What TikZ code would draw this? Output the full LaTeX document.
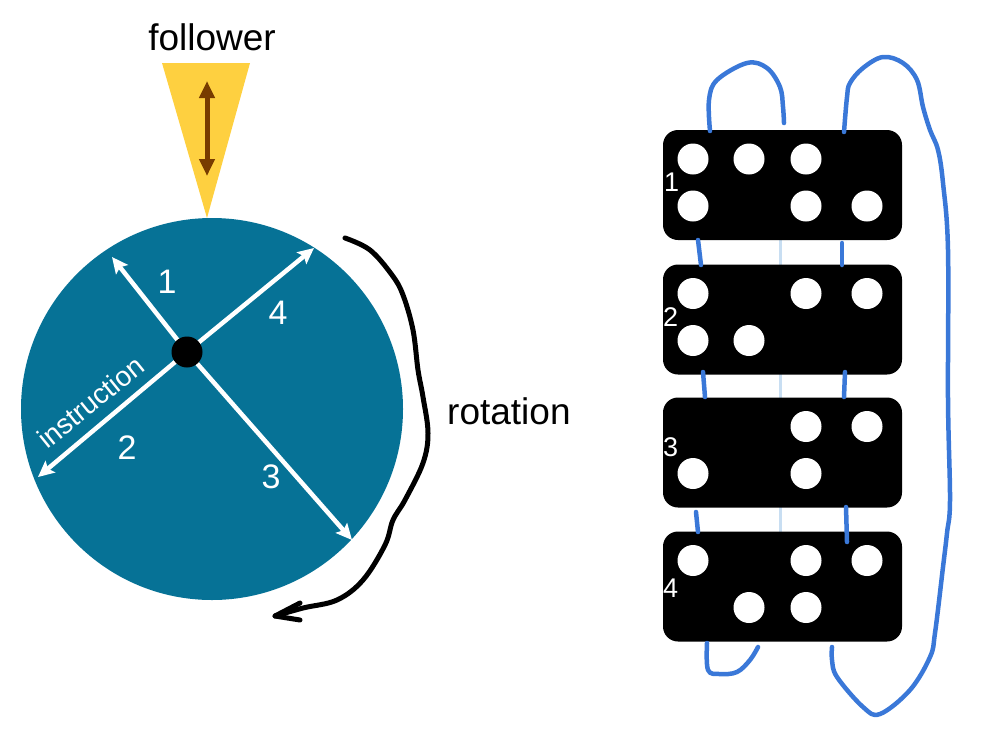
\documentclass[tikz,border=0pt]{standalone}
\usepackage{fontspec}
\setmainfont{Liberation Sans}
\usetikzlibrary{arrows.meta}
\definecolor{disk}{RGB}{6,114,150}
\definecolor{gold}{RGB}{254,208,64}
\definecolor{brownarrow}{RGB}{120,60,0}
\definecolor{string}{RGB}{58,120,216}
\definecolor{lightstring}{RGB}{200,222,242}
\tikzset{
  whitearrow/.style={draw=white,line width=4.5pt,-{Stealth[length=16pt,width=15pt,inset=3pt]}},
  disklabel/.style={text=white,font=\fontsize{34}{34}\selectfont,inner sep=0pt},
  card/.style={fill=black,rounded corners=15pt,minimum width=239pt,minimum height=110pt,inner sep=0pt,draw=none},
  hole/.style={fill=white,circle,minimum size=31pt,inner sep=0pt},
  cardnum/.style={text=white,font=\fontsize{27}{27}\selectfont,inner sep=0pt,anchor=west},
  stringline/.style={draw=string,line width=4.5pt,line cap=round,line join=round},
  bigtext/.style={font=\fontsize{37}{37}\selectfont,inner sep=0pt}
}
\begin{document}
\begin{tikzpicture}[x=1pt,y=-1pt]
\useasboundingbox (0,0) rectangle (984,731);
% follower
\node[bigtext] (follower) at (212,37) {follower};
\fill[gold] (162,63) -- (250,63) -- (207,218) -- cycle;
\coordinate (ftop) at (207,81);
\coordinate (fbot) at (207,176);
\draw[brownarrow,line width=5pt,{Triangle[length=17pt,width=15pt]}-{Triangle[length=17pt,width=15pt]}] (ftop) -- (fbot);
% disk
\node[circle,fill=disk,minimum size=382pt,inner sep=0pt] (disk) at (212,409) {};
\coordinate (hubc) at (187,352);
\coordinate (t1) at (112,257);
\coordinate (t4) at (314,248);
\coordinate (t2) at (38,477);
\coordinate (t3) at (352,540);
\draw[whitearrow] (hubc) -- (t1);
\draw[whitearrow] (hubc) -- (t4);
\draw[whitearrow] (hubc) -- (t2);
\draw[whitearrow] (hubc) -- (t3);
\node[circle,fill=black,minimum size=31pt,inner sep=0pt] (hub) at (hubc) {};
\node[disklabel] (l1) at (167,282) {1};
\node[disklabel] (l4) at (278,313) {4};
\node[disklabel] (l2) at (127,448) {2};
\node[disklabel] (l3) at (271,477) {3};
\node[text=white,font=\fontsize{28}{28}\selectfont,inner sep=0pt,rotate=39] (instr) at (91,402) {instruction};
% rotation arrow
\draw[black,line width=5pt,line cap=round,line join=round] plot[smooth,tension=0.6] coordinates {(345,238) (370,250) (392,275) (403,295) (413,330) (418,370) (423,397) (428,433) (423,463) (405,500) (393,520) (385,545) (363,580) (337,600) (303,608) (275,616)};
\draw[black,line width=5pt,line cap=round,line join=round] (300,603) -- (275,616) -- (300,620);
\node[bigtext,anchor=west] (rotation) at (447,411) {rotation};
% right side: light center string
\draw[lightstring,line width=3pt] (780,240) -- (780,532);
% cards
\foreach \n/\cy in {1/185,2/319.5,3/452.5,4/586.5}{
  \node[card] (card\n) at (782.5,\cy) {};
}
\foreach \c/\dx/\dy in {1/-89.5/-26,1/-33.5/-26,1/23.5/-26,1/-89.5/21,1/23.5/21,1/84.5/21,
                        2/-89.5/-26,2/23.5/-26,2/84.5/-26,2/-89.5/21,2/-33.5/21,
                        3/23.5/-26,3/84.5/-26,3/-89.5/21,3/23.5/21,
                        4/-89.5/-26,4/23.5/-26,4/84.5/-26,4/-33.5/21,4/23.5/21}{
  \node[hole] at ([xshift=\dx pt,yshift=-\dy pt]card\c.center) {};
}
\node[cardnum] (n1) at ([xshift=1pt,yshift=3pt]card1.west) {1};
\node[cardnum] (n2) at ([yshift=2pt]card2.west) {2};
\node[cardnum] (n3) at ([yshift=5pt]card3.west) {3};
\node[cardnum] (n4) at ([yshift=-2pt]card4.west) {4};
% blue strings
\draw[stringline] plot[smooth,tension=0.6] coordinates {(710,131) (709,100) (717,80) (747,63) (767,68) (780,87) (783,107) (784,123)};
\draw[stringline] plot[smooth,tension=0.6] coordinates {(844,132) (847,97) (850,83) (863,68) (883,57) (903,63) (917,80) (923,107) (930,130) (938,150) (943,183) (948,250) (948,400) (950,500) (947,533) (943,567) (935,633) (930,657) (910,690) (880,714) (863,707) (837,677) (832,660) (832,647)};
\draw[stringline] plot[smooth,tension=0.6] coordinates {(707,643) (708,670) (720,674) (737,672) (750,660) (758,647)};
\draw[stringline] (698,240) -- (701,265);
\draw[stringline] (842,243) -- (842,265);
\draw[stringline] (703,372) -- (705,397);
\draw[stringline] (845,372) -- (844,397);
\draw[stringline] (696,512) -- (698,532);
\draw[stringline] (846,507) -- (847,542);
\end{tikzpicture}
\end{document}
